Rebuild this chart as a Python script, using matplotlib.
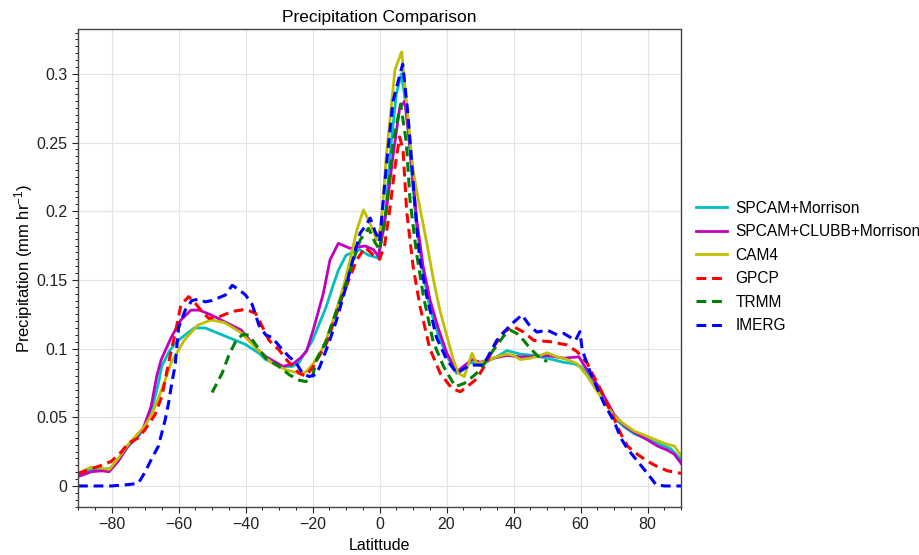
import numpy as np
import matplotlib
matplotlib.use("Agg")
import matplotlib.pyplot as plt
from matplotlib.ticker import MultipleLocator, FuncFormatter

plt.rcParams['font.family'] = ['Liberation Sans', 'DejaVu Sans']
plt.rcParams['mathtext.default'] = 'regular'

# ---- data (latitude, mm/hr) ----
spcam_lat = [-90, -86, -82, -80, -77, -75, -72, -70, -68, -66, -65, -63, -61, -58, -55.3, -52, -48, -43, -40, -36,
             -34, -29, -26, -24, -20, -16, -14, -12.3, -10, -6, -3.3, -0.5, 1.5, 3.5, 5, 6.5, 8, 9.5, 11, 13,
             15, 17.5, 20, 23, 25, 27, 30, 35, 38, 42, 46, 50, 55, 58, 60, 62, 66, 70, 73, 76, 80, 84, 87, 90]
spcam_pr = [0.009, 0.012, 0.012, 0.013, 0.022, 0.029, 0.036, 0.043, 0.055, 0.075, 0.087, 0.097, 0.104, 0.110, 0.115, 0.115, 0.111, 0.106, 0.103, 0.0966,
            0.092, 0.087, 0.087, 0.090, 0.106, 0.130, 0.145, 0.157, 0.168, 0.172, 0.168, 0.166, 0.190, 0.250, 0.285, 0.300, 0.275, 0.230, 0.190, 0.155,
            0.130, 0.110, 0.095, 0.082, 0.086, 0.090, 0.088, 0.094, 0.0985, 0.096, 0.095, 0.093, 0.090, 0.089, 0.087, 0.082, 0.068, 0.050, 0.043, 0.038, 0.034, 0.030, 0.027, 0.019]

clubb_lat = [-90, -86, -83, -80.7, -78, -75.2, -70.7, -68.2, -66.5, -65.2, -62.3, -59.3, -56.3, -53.8, -50.3, -46.3, -41.3, -36.3, -33.8, -28.8,
             -25.8, -23.7, -21.8, -19.8, -16.8, -14.8, -12.3, -8.8, -4.3, -1.8, -0.3, 2, 4, 6, 7.5, 9, 11.1, 13, 15.1, 17.5,
             20.1, 23.1, 25, 27.6, 30, 34, 38, 42, 45, 50, 55, 59.5, 61, 63, 66, 70, 73, 76, 80, 83, 86, 88, 90]
clubb_pr = [0.0068, 0.0104, 0.011, 0.0104, 0.018, 0.0286, 0.0408, 0.0577, 0.080, 0.0917, 0.1075, 0.1208, 0.128, 0.128, 0.1245, 0.1196, 0.1135, 0.099, 0.094, 0.087,
            0.089, 0.093, 0.098, 0.1135, 0.140, 0.1645, 0.1766, 0.173, 0.1747, 0.172, 0.167, 0.200, 0.240, 0.275, 0.280, 0.250, 0.1936, 0.160, 0.135, 0.115,
            0.0966, 0.0832, 0.087, 0.092, 0.090, 0.093, 0.095, 0.094, 0.094, 0.095, 0.093, 0.094, 0.088, 0.081, 0.070, 0.052, 0.044, 0.039, 0.0335, 0.029, 0.026, 0.023, 0.0165]

cam4_lat = [-90, -86.2, -83, -80.7, -78, -75.2, -70.2, -68, -66.2, -64, -62.3, -58.3, -54.3, -50.3, -46.3, -41.3, -36.3, -33.8, -31.8, -27.8,
            -23.7, -22, -19.8, -16.8, -13.8, -10.8, -8.8, -6.8, -4.8, -2.8, -0.8, 0.5, 2, 4.6, 6.6, 8, 10, 11.6, 14, 16.1,
            18, 20.1, 22, 23.6, 25.3, 27.6, 29, 32, 35, 38, 40, 42, 45, 48, 50, 53, 56, 59, 62, 66, 70, 73, 76, 80, 83, 85, 88, 90]
cam4_pr = [0.0092, 0.0136, 0.013, 0.012, 0.020, 0.0298, 0.0432, 0.052, 0.0626, 0.077, 0.0893, 0.106, 0.117, 0.1208, 0.119, 0.1115, 0.099, 0.093, 0.089, 0.0844,
           0.082, 0.083, 0.089, 0.101, 0.121, 0.145, 0.1645, 0.186, 0.201, 0.191, 0.179, 0.190, 0.240, 0.303, 0.316, 0.280, 0.230, 0.208, 0.178, 0.150,
           0.128, 0.109, 0.092, 0.082, 0.0796, 0.0966, 0.089, 0.091, 0.094, 0.096, 0.095, 0.092, 0.093, 0.095, 0.097, 0.094, 0.092, 0.089, 0.080, 0.065, 0.051, 0.045, 0.040, 0.036, 0.033, 0.031, 0.029, 0.022]

gpcp_lat = [-90, -86, -83, -80, -77, -75, -72, -70, -67, -65, -64, -62.5, -61, -59.3, -57, -55, -53, -51, -48, -44,
            -40, -37, -35, -33, -30, -27.8, -24, -22, -19.8, -15.8, -10.8, -6.8, -4.3, -1.8, 0, 1.5, 3, 4.6, 6, 7,
            8.1, 10, 12.1, 15, 18.1, 21.6, 24.1, 26, 29, 32, 34, 37, 40, 43, 46, 51, 56, 59, 62, 66,
            70, 72, 74, 77, 80, 83, 86, 90]
gpcp_pr = [0.009, 0.0126, 0.015, 0.018, 0.025, 0.031, 0.035, 0.041, 0.052, 0.065, 0.077, 0.095, 0.111, 0.1317, 0.1378, 0.133, 0.127, 0.122, 0.123, 0.127,
           0.1286, 0.1257, 0.116, 0.106, 0.099, 0.092, 0.082, 0.080, 0.0868, 0.104, 0.140, 0.1645, 0.1737, 0.168, 0.165, 0.175, 0.200, 0.232, 0.254, 0.245,
           0.200, 0.160, 0.1305, 0.100, 0.082, 0.071, 0.0686, 0.072, 0.078, 0.090, 0.101, 0.112, 0.116, 0.112, 0.106, 0.105, 0.1026, 0.0977, 0.0893, 0.070,
           0.049, 0.038, 0.029, 0.023, 0.018, 0.014, 0.011, 0.0092]

trmm_lat = [-50, -47, -45, -43, -41, -39, -37, -34, -30, -27, -24, -22, -20, -18.8, -16, -13.8, -11, -8.8, -5.8, -3.3,
            -1.3, 0, 2, 4, 6.3, 8, 9.1, 11, 13.1, 16, 19.1, 22.6, 25.3, 28, 30, 34, 37, 39, 41, 43, 45, 47.5, 50]
trmm_pr = [0.068, 0.082, 0.095, 0.105, 0.110, 0.110, 0.103, 0.093, 0.087, 0.081, 0.077, 0.076, 0.080, 0.092, 0.105, 0.121, 0.140, 0.157, 0.179, 0.1875,
           0.177, 0.172, 0.200, 0.250, 0.278, 0.250, 0.208, 0.170, 0.138, 0.105, 0.087, 0.0723, 0.0747, 0.080, 0.0844, 0.099, 0.109, 0.1135, 0.111, 0.106, 0.100, 0.094, 0.0905]

imerg_lat = [-90, -85, -80, -75, -72, -70, -68, -66, -64, -63, -62, -61, -60, -58, -56, -54, -52, -50, -48, -46,
             -44, -42, -40, -38, -36, -34, -32, -30, -27, -25, -23, -21, -19, -17.8, -15, -12.8, -10, -8.8, -5.8, -4,
             -2.8, -1.3, 0, 2.2, 4, 6.9, 8.5, 10.6, 12, 14.1, 17, 20.1, 23.1, 25, 27, 31, 35, 39, 42.5, 45,
             47, 50, 53, 55, 58.5, 59.8, 60.5, 63, 67, 70, 72, 74, 77, 80, 82.5, 85, 90]
imerg_pr = [0.0, 0.0, 0.0, 0.001, 0.002, 0.010, 0.020, 0.029, 0.048, 0.060, 0.075, 0.088, 0.115, 0.128, 0.135, 0.136, 0.134, 0.135, 0.137, 0.139,
            0.146, 0.143, 0.139, 0.132, 0.117, 0.110, 0.108, 0.102, 0.094, 0.090, 0.082, 0.0796, 0.081, 0.087, 0.105, 0.121, 0.145, 0.157, 0.184, 0.190,
            0.195, 0.185, 0.178, 0.237, 0.280, 0.307, 0.270, 0.203, 0.165, 0.138, 0.108, 0.0917, 0.082, 0.085, 0.088, 0.088, 0.106, 0.117, 0.1245, 0.116,
            0.112, 0.1135, 0.110, 0.111, 0.106, 0.1123, 0.099, 0.082, 0.060, 0.047, 0.035, 0.027, 0.018, 0.009, 0.001, 0.0, 0.0]

fig = plt.figure(figsize=(9.2, 5.55), dpi=100)
ax = fig.add_axes([0.0848, 0.0865, 0.6555, 0.8612])

dash = (0, (3.2, 1.9))
ax.plot(spcam_lat, spcam_pr, color='c', lw=2, label='SPCAM+Morrison')
ax.plot(clubb_lat, clubb_pr, color='m', lw=2, label='SPCAM+CLUBB+Morrison')
ax.plot(cam4_lat, cam4_pr, color='y', lw=2, label='CAM4')
ax.plot(gpcp_lat, gpcp_pr, color='r', lw=2.2, ls=dash, label='GPCP')
ax.plot(trmm_lat, trmm_pr, color='g', lw=2.2, ls=dash, label='TRMM')
ax.plot(imerg_lat, imerg_pr, color='b', lw=2.2, ls=dash, label='IMERG')

ax.set_xlim(-90, 90)
ax.set_ylim(-0.0153, 0.3326)
ax.xaxis.set_major_locator(MultipleLocator(20))
ax.xaxis.set_minor_locator(MultipleLocator(5))
ax.yaxis.set_major_locator(MultipleLocator(0.05))
ax.yaxis.set_minor_locator(MultipleLocator(0.005))
ax.yaxis.set_major_formatter(FuncFormatter(lambda v, p: '%g' % round(v, 3)))
ax.xaxis.set_major_formatter(FuncFormatter(lambda v, p: ('%g' % v).replace('-', '\u2212')))

ax.grid(True, which='major', color='#e3e3e3', lw=0.8)
ax.set_axisbelow(True)
ax.tick_params(which='both', direction='out', top=False, right=False, labelsize=11.5, colors='#222222')
ax.tick_params(which='major', length=4, width=0.8)
ax.tick_params(which='minor', length=2.5, width=0.7)
for s in ax.spines.values():
    s.set_color('#444444')
    s.set_linewidth(1.0)

ax.set_title('Precipitation Comparison', fontsize=12.5, pad=5)
ax.set_xlabel('Latittude', fontsize=11.5, labelpad=4)
ax.set_ylabel('Precipitation (mm hr$^{-1}$)', fontsize=12, labelpad=1)

ax.legend(loc='center left', bbox_to_anchor=(0.7565, 0.519), bbox_transform=fig.transFigure,
          frameon=False, fontsize=11.2, handlelength=2.0, handletextpad=0.55, labelspacing=0.55,
          borderpad=0, borderaxespad=0)

fig.savefig('out.png', dpi=100)
